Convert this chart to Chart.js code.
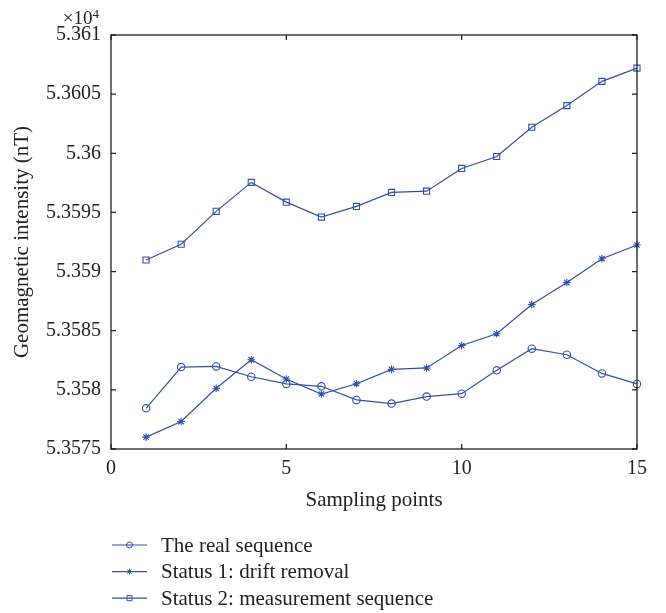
<!DOCTYPE html>
<html><head><meta charset="utf-8">
<script src="https://cdn.jsdelivr.net/npm/chart.js@4"></script>
<style>html,body{margin:0;padding:0;background:#fff;}#wrap{width:666px;height:613px;}</style>
</head><body><div id="wrap"><canvas id="c" width="666" height="613"></canvas></div>
<script>
const samplingPoints = [1,2,3,4,5,6,7,8,9,10,11,12,13,14,15];
const realSequence = [53578.44,53581.93,53581.98,53581.11,53580.50,53580.30,53579.15,53578.84,53579.43,53579.68,53581.65,53583.48,53582.97,53581.39,53580.50];
const driftRemoval = [53576.00,53577.32,53580.13,53582.55,53580.92,53579.65,53580.52,53581.73,53581.85,53583.75,53584.74,53587.21,53589.07,53591.09,53592.25];
const measurementSequence = [53590.98,53592.31,53595.09,53597.54,53595.87,53594.61,53595.51,53596.69,53596.80,53598.72,53599.73,53602.20,53604.03,53606.08,53607.20];
const seriesNames = ['The real sequence','Status 1: drift removal','Status 2: measurement sequence'];
const seriesStyles = ['circle','star','rect'];
const xTicks = [0,5,10,15];
const yTicks = [53575,53580,53585,53590,53595,53600,53605,53610];
const yTickLabels = ['5.3575','5.358','5.3585','5.359','5.3595','5.36','5.3605','5.361'];

const BLUE = '#2f51a8';
const FONT = '"Liberation Serif", "DejaVu Serif", serif';
const TXT = '#222';
const markerRadius = [3.7, 3.8, 4.3];

function mk(vals, i){
  return {
    label: seriesNames[i],
    data: samplingPoints.map((x,k)=>({x:x,y:vals[k]})),
    borderColor: BLUE, backgroundColor: 'rgba(0,0,0,0)',
    borderWidth: 1.2, pointStyle: seriesStyles[i],
    pointRadius: markerRadius[i],
    pointBorderWidth: 1.1, pointBorderColor: BLUE, pointBackgroundColor: 'rgba(0,0,0,0)',
    tension: 0, clip: false
  };
}

const framePlugin = {
  id: 'frame',
  afterDatasetsDraw(chart){
    const ctx = chart.ctx, a = chart.chartArea;
    const xs = chart.scales.x, ys = chart.scales.y;
    ctx.save();
    ctx.strokeStyle = '#222'; ctx.lineWidth = 1.3;
    ctx.strokeRect(a.left, a.top, a.right-a.left, a.bottom-a.top);
    ctx.beginPath();
    const L = 5;
    xTicks.forEach(v=>{ const px = xs.getPixelForValue(v);
      ctx.moveTo(px,a.bottom); ctx.lineTo(px,a.bottom-L);
      ctx.moveTo(px,a.top); ctx.lineTo(px,a.top+L); });
    yTicks.forEach(v=>{ const py = ys.getPixelForValue(v);
      ctx.moveTo(a.left,py); ctx.lineTo(a.left+L,py);
      ctx.moveTo(a.right,py); ctx.lineTo(a.right-L,py); });
    ctx.stroke();
    // exponent label
    ctx.fillStyle = TXT; ctx.textBaseline = 'alphabetic';
    ctx.font = '13px ' + FONT; ctx.textAlign = 'right';
    ctx.fillText('4', a.left - 12, 18);
    const w4 = ctx.measureText('4').width;
    ctx.font = '19px ' + FONT;
    ctx.fillText('×10', a.left - 12 - w4, 24);
    // legend
    chart.data.datasets.forEach((ds,i)=>{
      const y = 545 + i*26.6;
      ctx.strokeStyle = ds.borderColor; ctx.lineWidth = 1.2;
      ctx.beginPath(); ctx.moveTo(112,y); ctx.lineTo(147,y); ctx.stroke();
      ctx.fillStyle = 'rgba(0,0,0,0)'; ctx.strokeStyle = ds.borderColor; ctx.lineWidth = 1;
      Chart.helpers.drawPoint(ctx, {pointStyle: ds.pointStyle, radius: i===2 ? 3.6 : 3, rotation: 0, borderWidth: 1}, 129.5, y);
      ctx.fillStyle = TXT; ctx.font = '21px ' + FONT; ctx.textAlign = 'left'; ctx.textBaseline = 'middle';
      ctx.fillText(ds.label, 161, y+1);
    });
    ctx.restore();
  }
};

new Chart(document.getElementById('c'), {
  type: 'line',
  data: { datasets: [mk(realSequence,0), mk(driftRemoval,1), mk(measurementSequence,2)] },
  options: {
    responsive: false, animation: false, devicePixelRatio: 1,
    layout: { padding: { left: 0, top: 35, right: 29, bottom: 100 } },
    plugins: { legend: { display: false }, tooltip: { enabled: false } },
    scales: {
      x: { type: 'linear', min: 0, max: 15,
        afterBuildTicks: s => { s.ticks = xTicks.map(v=>({value:v})); },
        afterFit: s => { s.height = 64; },
        grid: { display: false, drawTicks: false }, border: { display: false },
        ticks: { color: TXT, font: { family: FONT, size: 20 }, padding: 8, maxRotation: 0, autoSkip: false },
        title: { display: true, text: 'Sampling points', color: TXT, font: { family: FONT, size: 21 }, padding: { top: 0, bottom: 0 } }
      },
      y: { type: 'linear', min: 53575, max: 53610,
        afterBuildTicks: s => { s.ticks = yTicks.map(v=>({value:v})); },
        afterFit: s => { s.width = 111; },
        grid: { display: false, drawTicks: false }, border: { display: false },
        ticks: { color: TXT, font: { family: FONT, size: 20 }, padding: 10, autoSkip: false,
          callback: (v, i) => yTickLabels[i] },
        title: { display: true, text: 'Geomagnetic intensity (nT)', color: TXT, font: { family: FONT, size: 21 }, padding: { top: 10, bottom: 0 } }
      }
    }
  },
  plugins: [framePlugin]
});
</script></body></html>
